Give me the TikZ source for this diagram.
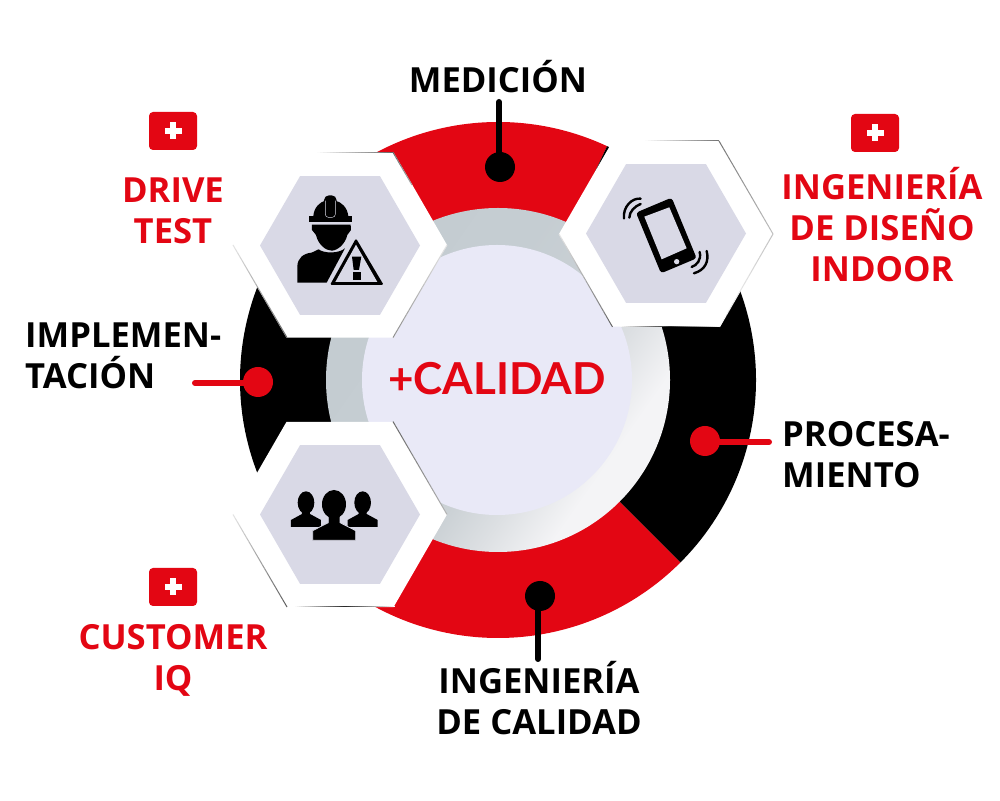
\documentclass[tikz,border=0pt]{standalone}
\usepackage{fontspec}
\setmainfont{Open Sans}
\newfontfamily\corefont{Lato}
\definecolor{cred}{HTML}{E30613}
\definecolor{hexfill}{HTML}{D9D9E6}
\definecolor{coreblue}{HTML}{E9E9F7}
\definecolor{ringa}{HTML}{C4CCD1}
\definecolor{ringb}{HTML}{C5CDD2}
\definecolor{ringc}{HTML}{CBD1D5}
\definecolor{ringd}{HTML}{DDE0E3}
\definecolor{ringe}{HTML}{F4F4F6}
\pgfdeclareverticalshading{ringsh}{100bp}{color(0bp)=(ringe); color(30bp)=(ringe); color(38bp)=(ringd); color(45bp)=(ringc); color(58bp)=(ringb); color(75bp)=(ringa); color(100bp)=(ringa)}
\tikzset{x=1pt,y=1pt,
 lbl/.style={font=\bfseries\fontsize{34.6}{41}\selectfont,inner sep=0pt,text=black},
 rlbl/.style={lbl,text=cred},
 dot/.style={circle,minimum size=30pt,inner sep=0pt},
 lead/.style={line width=6pt,line cap=round},
 plusbox/.style={fill=cred,rounded corners=4pt,minimum width=48pt,minimum height=38pt,inner sep=0pt},
 hexo/.style={fill=white},
 hexi/.style={fill=hexfill},
 ico/.style={fill=black},
 wave/.style={draw=black,line width=2.4pt,line cap=round}}
\newcommand{\hexpath}[3]{(#1-#3,#2) -- (#1-#3/2,#2+0.866*#3) -- (#1+#3/2,#2+0.866*#3) -- (#1+#3,#2) -- (#1+#3/2,#2-0.866*#3) -- (#1-#3/2,#2-0.866*#3) -- cycle}
% fading hairline: x1 y1 x2 y2 startshade endshade (percent of black)
\newcommand{\fadeline}[6]{\foreach \i in {1,...,24}{%
  \pgfmathsetmacro{\ta}{(\i-1)/24}\pgfmathsetmacro{\tb}{\i/24}%
  \pgfmathsetmacro{\sh}{#5+(#6-#5)*(\i-.5)/24}%
  \draw[line width=1pt,black!\sh] ({#1+(#3-#1)*\ta},{#2+(#4-#2)*\ta}) -- ({#1+(#3-#1)*\tb},{#2+(#4-#2)*\tb});}}
\newcommand{\plusmark}[2]{\fill[white] (#1-8.5,#2-3) rectangle (#1+8.5,#2+3); \fill[white] (#1-3,#2-8.5) rectangle (#1+3,#2+8.5);}
\begin{document}
\begin{tikzpicture}
\useasboundingbox (0,0) rectangle (1000,800);
\fill[white] (0,0) rectangle (1000,800);
% ring sectors
\fill[cred] (498,420) -- ++(65:258) arc (65:140:258) -- cycle;
\fill[black] (498,420) -- ++(140:258) arc (140:205:258) -- cycle;
\fill[cred] (498,420) -- ++(205:258) arc (205:315:258) -- cycle;
\fill[black] (498,420) -- ++(315:258) arc (315:425:258) -- cycle;
\shade[shading=ringsh,shading angle=55] (498,420) circle (172);
\fill[coreblue] (497,420) circle (135);
\node[font=\corefont\bfseries\fontsize{44}{50}\selectfont,text=cred,inner sep=0pt] (core) at (497,421) {+CALIDAD};

% hexagons
\fill[hexo] \hexpath{340}{555}{107};
\fill[hexi] \hexpath{340}{554.5}{80};
\fill[hexo] \hexpath{666}{566}{107};
\fill[hexi] \hexpath{666}{566.5}{80};
\fill[hexo] \hexpath{340}{285.5}{107};
\fill[hexi] \hexpath{340}{285.5}{80};
% hexagon edge shadows: top-left
\fadeline{317}{647.6}{393}{647.6}{0}{60}
\fadeline{393}{647.6}{412}{615}{60}{35}
\fadeline{233}{555}{287}{462.4}{10}{60}
\fadeline{447}{555}{393}{462.4}{10}{45}
% top-right
\fadeline{645}{659}{719}{659}{0}{55}
\fadeline{719}{659}{773}{566}{55}{25}
\fadeline{773}{566}{719.5}{473}{25}{0}
\fadeline{620}{473}{670}{473}{0}{85}
\fadeline{670}{473}{719}{473}{85}{0}
\fadeline{559}{566}{612.5}{473}{10}{60}
% bottom-left
\fadeline{393}{378.4}{447}{285.5}{60}{30}
\fadeline{233}{285.5}{287}{193}{10}{65}
\fadeline{295}{193}{345}{193}{0}{85}
\fadeline{345}{193}{395}{193}{85}{0}

% worker icon
\begin{scope}[shift={(220,670)},x=0.3333pt,y=-0.3333pt]
 \fill[ico] (268,258) rectangle (396,276);
 \fill[ico] (280,258) .. controls (282,232) and (300,216) .. (316,212) -- (346,212) .. controls (364,216) and (382,232) .. (385,258) -- cycle;
 \fill[ico,rounded corners=5pt] (312,196) rectangle (350,266);
 \draw[hexfill,line width=.45pt,rounded corners=3pt] (316,212) -- (316,262) -- (346,262) -- (346,212);
 \fill[ico] (276,284) -- (392,284) -- (393,300) -- (382,315) .. controls (375,345) and (350,362) .. (335,362) .. controls (318,362) and (295,345) .. (288,315) -- (276,300) -- cycle;
 \fill[ico] (232,458) -- (232,410) .. controls (232,385) and (250,370) .. (275,368) -- (296,358) .. controls (310,370) and (355,372) .. (375,355) -- (320,458) -- cycle;
 \fill[hexfill] (408,312) -- (500,472) -- (318,472) -- cycle;
 \fill[ico,rounded corners=1.5pt] (408,325) -- (491,465) -- (330,465) -- cycle;
 \fill[hexfill] (408,344) -- (472,456) -- (346,456) -- cycle;
 \fill[ico] (396,380) -- (424,380) -- (417,420) -- (401,420) -- cycle;
 \fill[ico] (398,426) rectangle (422,450);
\end{scope}

% phone icon
\begin{scope}[shift={(550,680)},x=0.3333pt,y=-0.3333pt]
 \fill[ico,rounded corners=3pt] (258,278) -- (365,233) -- (440,415) -- (333,460) -- cycle;
 \fill[hexfill] (283,290) -- (358,262) -- (410,385) -- (335,418) -- cycle;
 \fill[hexfill] (380,425) circle (8);
 \draw[wave] (238,293) .. controls (238,275) and (255,258) .. (272,252);
 \draw[wave] (222,295) .. controls (218,262) and (245,233) .. (272,236);
 \draw[wave] (425,441) .. controls (440,436) and (455,420) .. (449,396);
 \draw[wave] (432,460) .. controls (465,450) and (478,425) .. (470,393);
\end{scope}

% people icon
\begin{scope}[shift={(220,390)},x=0.3333pt,y=-0.3333pt]
 \fill[ico] (258,278) ellipse [x radius=25,y radius=34];
 \fill[ico] (213,351) -- (213,330) -- (246,312) -- (246,290) -- (270,290) -- (270,312) -- (303,330) -- (303,351) -- cycle;
 \fill[ico] (428,278) ellipse [x radius=25,y radius=34];
 \fill[ico] (383,351) -- (383,330) -- (416,312) -- (416,290) -- (440,290) -- (440,312) -- (473,330) -- (473,351) -- cycle;
 \draw[hexfill,line width=1pt] (342,283) ellipse [x radius=38,y radius=44];
 \filldraw[ico,draw=hexfill,line width=.8pt] (278,391) -- (278,362) -- (325,338) -- (325,310) -- (360,310) -- (360,338) -- (407,362) -- (407,391) -- cycle;
 \fill[ico] (342,283) ellipse [x radius=36,y radius=43];
\end{scope}

% plus badges
\node[plusbox] (pa) at (173,669) {};
\plusmark{173}{669}
\node[plusbox] (pb) at (875,667) {};
\plusmark{875}{667}
\node[plusbox] (pc) at (173,213) {};
\plusmark{173}{213}

% dots and leaders
\node[dot,fill=black] (da) at (500,633) {};
\coordinate (ea) at (499,698);
\draw[lead,black] (ea |- da) -- (ea);
\node[dot,fill=black] (db) at (540,204) {};
\coordinate (eb) at (538,141);
\draw[lead,black] (eb |- db) -- (eb);
\node[dot,fill=cred] (dc) at (258,418) {};
\coordinate (ec) at (195,417);
\draw[lead,cred] (dc |- ec) -- (ec);
\node[dot,fill=cred] (dd) at (705,359) {};
\coordinate (ed) at (769,358);
\draw[lead,cred] (dd |- ed) -- (ed);

% labels
\node[lbl,align=center] (medicion) at (498,723) {MEDICIÓN};
\node[rlbl,align=center] (drive) at (173,589) {DRIVE\\TEST};
\node[rlbl,align=center] (indoor) at (882,575) {INGENIERÍA\\DE DISEÑO\\INDOOR};
\node[lbl,align=left,anchor=west] (impl) at (25,444.5) {IMPLEMEN-\\TACIÓN};
\node[lbl,align=left,anchor=west] (proc) at (782,345) {PROCESA-\\MIENTO};
\node[lbl,align=center] (calidad) at (539,101.5) {INGENIERÍA\\DE CALIDAD};
\node[rlbl,align=center] (customer) at (173,140) {CUSTOMER\\IQ};
\end{tikzpicture}
\end{document}
